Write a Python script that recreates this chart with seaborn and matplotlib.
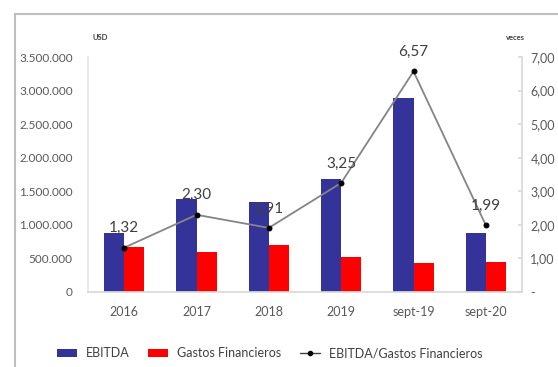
import numpy as np
import pandas as pd
import matplotlib
matplotlib.use("Agg")
import matplotlib.pyplot as plt
import seaborn as sns
from matplotlib.patches import Rectangle, Patch
from matplotlib.lines import Line2D
from matplotlib.ticker import FixedLocator, FuncFormatter

# Data
periods = ["2016", "2017", "2018", "2019", "sept-19", "sept-20"]
ebitda = [880000, 1385000, 1340000, 1680000, 2885000, 883000]
gastos = [666000, 602000, 702000, 517000, 439000, 444000]
ratio = [1.32, 2.30, 1.91, 3.25, 6.57, 1.99]
usd_ticks = [0, 500000, 1000000, 1500000, 2000000, 2500000, 3000000, 3500000]
veces_ticks = [0, 1, 2, 3, 4, 5, 6, 7]

BLUE = "#333399"
RED = "#FF0000"
LINE = "#858585"
TXT = "#595959"

sns.set_theme(style="white")
plt.rcParams["font.family"] = ["Lato", "DejaVu Sans"]

fig = plt.figure(figsize=(5.58, 3.67), dpi=100)
ax = fig.add_axes([88 / 558, 1 - 292 / 367, (522 - 88) / 558, (292 - 57) / 367])

df = pd.DataFrame({
    "periodo": periods * 2,
    "serie": ["EBITDA"] * len(periods) + ["Gastos Financieros"] * len(periods),
    "valor": ebitda + gastos,
})
sns.barplot(data=df, x="periodo", y="valor", hue="serie",
            palette={"EBITDA": BLUE, "Gastos Financieros": RED},
            width=0.553, saturation=1, legend=False, linewidth=0,
            edgecolor="none", ax=ax)
ax.set_xlim(-0.5, len(periods) - 0.5)
ax.set_ylim(0, 3500000)
ax.yaxis.set_major_locator(FixedLocator(usd_ticks))
ax.yaxis.set_major_formatter(FuncFormatter(
    lambda v, p: "0" if v == 0 else f"{int(v):,}".replace(",", ".")))
ax.set_xlabel("")
ax.set_ylabel("")
ax.tick_params(axis="y", length=0, pad=11, labelsize=8.5, labelcolor=TXT)
ax.tick_params(axis="x", length=0, pad=10, labelsize=9, labelcolor=TXT)
for s in ["top", "right"]:
    ax.spines[s].set_visible(False)
ax.spines["left"].set_color("#E6E6E6")
ax.spines["bottom"].set_color("#D9D9D9")

# Ratio line on secondary axis
ax2 = ax.twinx()
sns.lineplot(x=np.arange(len(periods)), y=ratio, ax=ax2, color=LINE, lw=1.3,
             marker="o", markersize=3.5, markerfacecolor="black",
             markeredgecolor="black")
ax2.set_ylim(0, 7)
ax2.yaxis.set_major_locator(FixedLocator(veces_ticks))
ax2.yaxis.set_major_formatter(FuncFormatter(
    lambda v, p: "-" if v == 0 else f"{v:.2f}".replace(".", ",")))
ax2.tick_params(axis="y", direction="in", length=3, color="#D9D9D9", pad=6,
                labelsize=9, labelcolor=TXT)
for s in ["top", "left", "bottom"]:
    ax2.spines[s].set_visible(False)
ax2.spines["right"].set_color("#D9D9D9")
ax2.set_ylabel("")

for i, v in enumerate(ratio):
    ax2.annotate(f"{v:.2f}".replace(".", ","), (i, v), xytext=(0, 14),
                 textcoords="offset points", ha="center", va="center",
                 fontsize=11, color="#404040")

# Axis unit captions
fig.text(100 / 558, 1 - 37 / 367, "USD", fontsize=5.5, color="#404040",
         fontweight="bold", ha="center", va="center")
fig.text(515 / 558, 1 - 37 / 367, "veces", fontsize=5.5, color="#404040",
         fontweight="bold", ha="center", va="center")

# Legend
handles = [
    Patch(facecolor=BLUE, edgecolor="none"),
    Patch(facecolor=RED, edgecolor="none"),
    Line2D([], [], color="#404040", lw=1, marker="o", markersize=3,
           markerfacecolor="black", markeredgecolor="black"),
]
labels = ["EBITDA", "Gastos Financieros", "EBITDA/Gastos Financieros"]
leg = fig.legend(handles, labels, loc="center", bbox_to_anchor=(0.483, 0.038),
                 ncol=3, frameon=False, fontsize=9, handlelength=1.6,
                 handleheight=0.6, columnspacing=1.5, handletextpad=0.7)
for t in leg.get_texts():
    t.set_color("#404040")

# Outer frame
fig.patches.append(Rectangle((15 / 558, -0.2), 2, 1 - 14 / 367 + 0.2,
                             transform=fig.transFigure, fill=False,
                             edgecolor="#BFBFBF", lw=1.5, zorder=0))

fig.savefig("out.png", dpi=100)
